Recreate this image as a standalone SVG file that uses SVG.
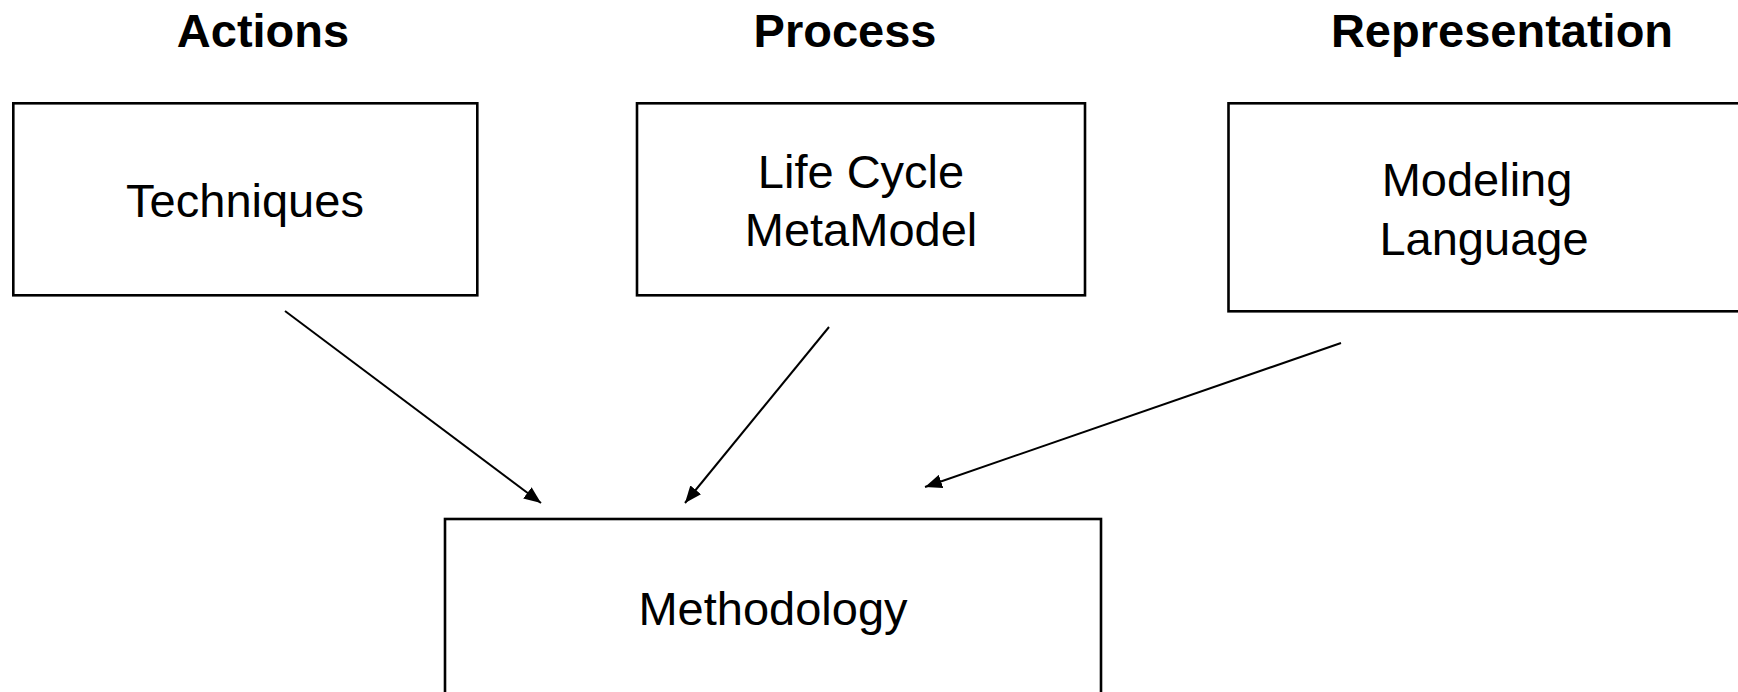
<svg xmlns="http://www.w3.org/2000/svg" width="1738" height="692" viewBox="0 0 1738 692">
  <style>
    .box { fill: #ffffff; stroke: #000000; stroke-width: 2.6; }
    .label { font-family: "Liberation Sans", Arial, sans-serif; font-size: 47px; fill: #000000; text-anchor: middle; }
    .title { font-family: "Liberation Sans", Arial, sans-serif; font-size: 47px; font-weight: bold; fill: #000000; text-anchor: middle; }
    .edge { stroke: #000000; stroke-width: 2; fill: none; marker-end: url(#arrow); }
  </style>
  <defs>
    <marker id="arrow" markerUnits="userSpaceOnUse" markerWidth="18" markerHeight="14" refX="17" refY="7" orient="auto">
      <path d="M0,0 L17,7 L0,14 z" fill="#000000"/>
    </marker>
  </defs>
  <rect width="1738" height="692" fill="#ffffff"/>

  <!-- column headings -->
  <g id="headings">
    <text class="title" x="263" y="47">Actions</text>
    <text class="title" x="845" y="47">Process</text>
    <text class="title" x="1502" y="47">Representation</text>
  </g>

  <g id="techniques">
    <rect class="box" x="13.3" y="103.3" width="464" height="192"/>
    <text class="label" x="245" y="217">Techniques</text>
  </g>

  <g id="life-cycle">
    <rect class="box" x="637" y="103.3" width="448" height="192"/>
    <text class="label" x="861" y="188">Life Cycle</text>
    <text class="label" x="861" y="246">MetaModel</text>
  </g>

  <g id="modeling-language">
    <rect class="box" x="1228.5" y="103.3" width="512" height="208"/>
    <text class="label" x="1477" y="196">Modeling</text>
    <text class="label" x="1484" y="255">Language</text>
  </g>

  <g id="methodology">
    <rect class="box" x="445" y="519" width="656" height="200"/>
    <text class="label" x="773" y="625">Methodology</text>
  </g>

  <!-- connectors into Methodology -->
  <g id="connectors">
    <line class="edge" x1="285" y1="311" x2="541" y2="503"/>
    <line class="edge" x1="829" y1="327" x2="685" y2="503"/>
    <line class="edge" x1="1341" y1="343" x2="925" y2="487"/>
  </g>
</svg>
